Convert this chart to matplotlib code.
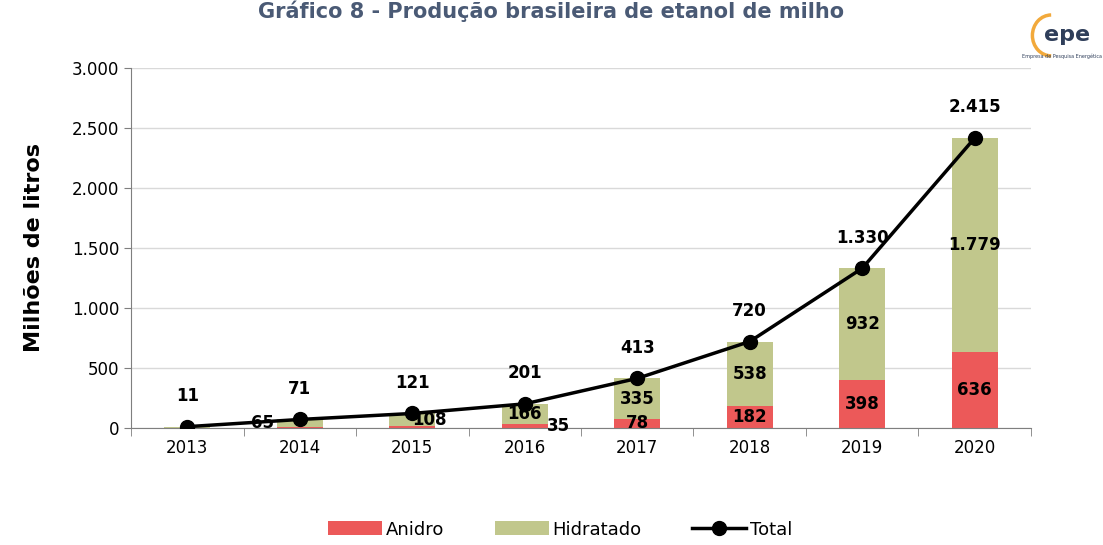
import matplotlib
matplotlib.use("Agg")
import numpy as np
from matplotlib import pyplot as plt
from matplotlib.patches import Arc
from matplotlib.ticker import FuncFormatter

years = ["2013", "2014", "2015", "2016", "2017", "2018", "2019", "2020"]
anidro = [0, 6, 13, 35, 78, 182, 398, 636]
hidratado = [11, 65, 108, 166, 335, 538, 932, 1779]
total = [11, 71, 121, 201, 413, 720, 1330, 2415]

# which stacked labels to show and horizontal nudges (in category units)
anidro_show = [False, False, False, True, True, True, True, True]
anidro_dx = [0, 0, 0, 0.3, 0, 0, 0, 0]
hidr_show = [False, True, True, True, True, True, True, True]
hidr_dx = [0, -0.33, 0.15, 0, 0, 0, 0, 0]

c_anidro = "#EC5959"
c_hidr = "#C1C78C"

plt.rcParams["font.family"] = "DejaVu Sans"

fig = plt.figure(figsize=(11.03, 5.45), dpi=100)
ax = fig.add_axes([0.1188, 0.2147, 0.8159, 0.661])

x = np.arange(len(years))
w = 0.41
ax.bar(x, anidro, w, color=c_anidro, label="Anidro", zorder=2)
ax.bar(x, hidratado, w, bottom=anidro, color=c_hidr, label="Hidratado", zorder=2)
ax.plot(x, total, color="black", lw=2.5, marker="o", markersize=10,
        label="Total", zorder=4)


def br(v, pos=None):
    return f"{int(v):,}".replace(",", ".")


lab = dict(ha="center", va="center", fontsize=12, fontweight="bold",
           color="black", zorder=5)
for i in range(len(years)):
    if anidro_show[i]:
        ax.text(x[i] + anidro_dx[i], anidro[i] / 2, br(anidro[i]), **lab)
    if hidr_show[i]:
        ax.text(x[i] + hidr_dx[i], anidro[i] + hidratado[i] / 2,
                br(hidratado[i]), **lab)
    ax.annotate(br(total[i]), (x[i], total[i]), xytext=(0, 22),
                textcoords="offset points", **lab)

ax.set_xlim(-0.5, len(years) - 0.5)
ax.set_ylim(0, 3000)
ax.set_yticks(np.arange(0, 3001, 500))
ax.yaxis.set_major_formatter(FuncFormatter(br))
ax.set_xticks(x, labels=years)
ax.set_xticks(np.arange(len(years) + 1) - 0.5, minor=True)
ax.tick_params(axis="x", which="major", length=0, labelsize=12, pad=8)
ax.tick_params(axis="x", which="minor", length=6, color="#7f7f7f")
ax.tick_params(axis="y", labelsize=12, length=5, color="#7f7f7f")
ax.grid(axis="y", color="#d9d9d9", lw=1, zorder=0)
ax.set_axisbelow(True)
for s in ["top", "right"]:
    ax.spines[s].set_visible(False)
for s in ["left", "bottom"]:
    ax.spines[s].set_color("#7f7f7f")
ax.set_ylabel("Milhões de litros", fontsize=16, fontweight="bold", labelpad=20)

h, l = ax.get_legend_handles_labels()
order = [l.index("Anidro"), l.index("Hidratado"), l.index("Total")]
fig.legend([h[k] for k in order], [l[k] for k in order],
           loc="lower center", bbox_to_anchor=(0.508, -0.018), ncol=3,
           frameon=False, fontsize=13, handlelength=3.0, handleheight=0.8,
           columnspacing=2.8, handletextpad=0.2)

fig.text(0.5, 1.0, "Gráfico 8 - Produção brasileira de etanol de milho",
         ha="center", va="top", fontsize=15, fontweight="bold",
         color="#4A5A75")

# small logo
fig.text(0.988, 0.935, "epe", ha="right", va="center", fontsize=16,
         fontweight="bold", color="#2F3E5A")
fig.patches.append(Arc((0.953, 0.935), 0.034, 0.075, theta1=90, theta2=270,
                       transform=fig.transFigure, color="#F2A93B", lw=2.5))
fig.text(0.999, 0.897, "Empresa de Pesquisa Energética", ha="right",
         va="center", fontsize=3.5, color="#2F3E5A")

fig.savefig("out.png", dpi=100)
